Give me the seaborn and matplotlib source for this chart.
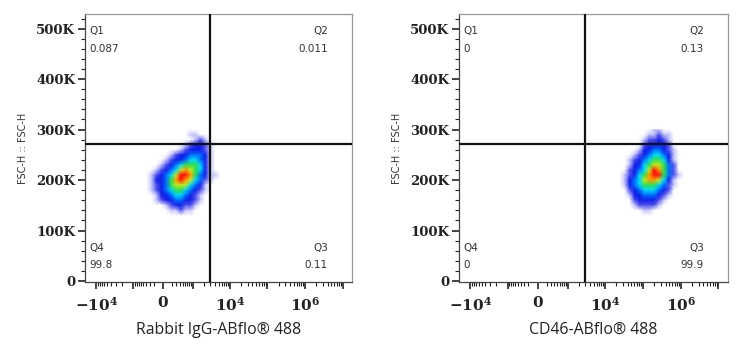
import numpy as np
import matplotlib
matplotlib.use('Agg')
import matplotlib.pyplot as plt
import seaborn as sns

# Gates and axis ranges
x_gate = 3000
y_gate = 271000
x_range = (-19700, 1.79e7)
y_range = (-2000, 529000)

panel_labels = ['Rabbit IgG-ABflo® 488', 'CD46-ABflo® 488']
quadrant_pcts = [
    {'Q1': '0.087', 'Q2': '0.011', 'Q3': '0.11', 'Q4': '99.8'},
    {'Q1': '0', 'Q2': '0.13', 'Q3': '99.9', 'Q4': '0'},
]

# FSC-H rows of the density grid (top to bottom)
fsc_rows = [300e3, 290e3, 280e3, 270e3, 260e3, 250e3, 240e3, 230e3, 220e3,
            210e3, 200e3, 190e3, 180e3, 170e3, 160e3, 150e3, 140e3, 130e3]

# Fluorescence extent of each cloud grid
left_cloud_x = (-390, 5470)
right_cloud_x = (24500, 1.63e6)

# Density levels (0 = empty .. 9 = peak)
left_density = [
    "0000000000000000",
    "0000000001100000",
    "0000000000121000",
    "0000000012332100",
    "0000000123332100",
    "0000012334443100",
    "0000123345543100",
    "0001234566653100",
    "0012345787653100",
    "0123457998643110",
    "0133468987542100",
    "0123467775431000",
    "0123456654321000",
    "0013345543210000",
    "0012334433210000",
    "0000123322100000",
    "0000011211000000",
    "0000000000000000",
]
right_density = [
    "000000011000000",
    "000000112110000",
    "000001223210000",
    "000002333320000",
    "000013344321000",
    "000123455431000",
    "001234566531000",
    "001335677642000",
    "002345798642000",
    "012356899642100",
    "013457887531000",
    "013456665421000",
    "002345554320000",
    "001334443210000",
    "000233332100000",
    "000122221000000",
    "000001100000000",
    "000000000000000",
]

sns.set_style('white')
plt.rcParams['mathtext.fontset'] = 'dejavuserif'
plt.rcParams['mathtext.default'] = 'bf'

C = 330.0


def fwd(x):
    return np.arcsinh(np.asarray(x, dtype=float) / C)


def inv(y):
    return C * np.sinh(np.asarray(y, dtype=float))


cmap = sns.blend_palette(['#ffffff', '#c4c4fa', '#5050ec', '#1020e8', '#0070ff',
                          '#00d8ff', '#30e050', '#c0f020', '#ffa000', '#ff1010'],
                         as_cmap=True)

# biexponential-style ticks
decades = [1e3, 1e4, 1e5, 1e6, 1e7]
major_x = sorted([-d for d in decades[:2]] + [0] + decades)
major_lbl = {-1e4: r'$-10^4$', 0: '0', 1e4: r'$10^4$', 1e6: r'$10^6$'}
minor_x = []
for n in range(2, 7):
    for k in range(2, 10):
        v = k * 10 ** n
        minor_x.append(v)
        if v < 19700:
            minor_x.append(-v)

fig = plt.figure(figsize=(7.42, 3.5), dpi=100)
axes_boxes = [[85 / 742, 68 / 350, 267 / 742, 268 / 350],
              [459 / 742, 68 / 350, 269 / 742, 268 / 350]]
grids = [(left_density, left_cloud_x), (right_density, right_cloud_x)]

for i, box in enumerate(axes_boxes):
    ax = fig.add_axes(box)
    ax.set_xscale('function', functions=(fwd, inv))
    ax.set_xlim(*x_range)
    ax.set_ylim(*y_range)

    dens, (xlo, xhi) = grids[i]
    z = np.array([[int(c) for c in row] for row in dens], dtype=float)
    xs = inv(np.linspace(fwd(xlo), fwd(xhi), z.shape[1]))
    X, Y = np.meshgrid(xs, fsc_rows)
    ax.pcolormesh(X, Y, z, cmap=cmap, vmin=0, vmax=9, shading='gouraud',
                  zorder=1, rasterized=True)

    ax.axhline(y_gate, color='#111111', lw=1.6, zorder=3)
    ax.axvline(x_gate, color='#111111', lw=1.6, zorder=3)

    # ticks
    ax.set_xticks(major_x)
    ax.set_xticklabels([major_lbl.get(v, '') for v in major_x])
    ax.set_xticks(minor_x, minor=True)
    ax.set_yticks(np.arange(0, 500001, 100000))
    ax.set_yticklabels(['0'] + ['%dK' % (v // 1000) for v in range(100000, 500001, 100000)])
    ax.set_yticks(np.arange(0, 520001, 20000), minor=True)
    ax.tick_params(axis='both', which='major', direction='out', length=5, width=1.2,
                   color='#222222', labelsize=9.5, pad=2)
    ax.tick_params(axis='both', which='minor', direction='out', length=3, width=0.8,
                   color='#222222')
    ax.tick_params(axis='x', which='major', pad=5, labelsize=11)
    ax.tick_params(bottom=True, left=True, which='both')
    for lab in ax.get_yticklabels() + ax.get_xticklabels():
        lab.set_family('DejaVu Serif')
        lab.set_fontweight('bold')
        lab.set_color('#222222')

    for side in ['top', 'right']:
        ax.spines[side].set_color('#999999')
        ax.spines[side].set_linewidth(0.9)
    for side in ['left', 'bottom']:
        ax.spines[side].set_color('#444444')
        ax.spines[side].set_linewidth(0.9)

    ax.set_xlabel(panel_labels[i], family='Open Sans', fontsize=11.4, color='#222222',
                  labelpad=6)
    ax.set_ylabel('FSC-H :: FSC-H', family='DejaVu Sans', fontsize=7, color='#333333',
                  labelpad=6)

    q = quadrant_pcts[i]
    tkw = dict(transform=ax.transAxes, fontsize=7.5, color='#333333', family='DejaVu Sans')
    ax.text(0.015, 0.935, 'Q1', ha='left', va='center', **tkw)
    ax.text(0.015, 0.868, q['Q1'], ha='left', va='center', **tkw)
    ax.text(0.91, 0.935, 'Q2', ha='right', va='center', **tkw)
    ax.text(0.91, 0.868, q['Q2'], ha='right', va='center', **tkw)
    ax.text(0.015, 0.125, 'Q4', ha='left', va='center', **tkw)
    ax.text(0.015, 0.062, q['Q4'], ha='left', va='center', **tkw)
    ax.text(0.91, 0.125, 'Q3', ha='right', va='center', **tkw)
    ax.text(0.91, 0.062, q['Q3'], ha='right', va='center', **tkw)

fig.savefig('out.png', dpi=100)
